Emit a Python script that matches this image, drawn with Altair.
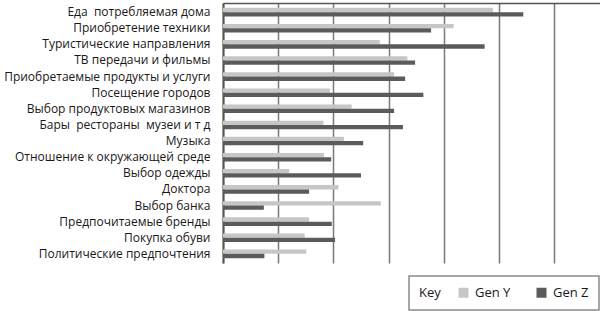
import altair as alt
import pandas as pd

categories = [
    "Еда\u00a0 потребляемая дома",
    "Приобретение техники",
    "Туристические направления",
    "ТВ передачи и фильмы",
    "Приобретаемые продукты и услуги",
    "Посещение городов",
    "Выбор продуктовых магазинов",
    "Бары\u00a0 рестораны\u00a0 музеи и т д",
    "Музыка",
    "Отношение к окружающей среде",
    "Выбор одежды",
    "Доктора",
    "Выбор банка",
    "Предпочитаемые бренды",
    "Покупка обуви",
    "Политические предпочтения",
]
gen_y = [4.89, 4.18, 2.84, 3.34, 3.10, 1.94, 2.33, 1.82, 2.19, 1.83, 1.20, 2.09, 2.86, 1.56, 1.48, 1.51]
gen_z = [5.44, 3.77, 4.74, 3.48, 3.30, 3.63, 3.10, 3.26, 2.54, 1.96, 2.50, 1.56, 0.74, 1.97, 2.03, 0.75]
series = ["Gen Y", "Gen Z"]
colors = ["#c6c6c6", "#5b5b5b"]
grid_values = [0, 1, 2, 3, 4, 5, 6]

rows = []
for c, y, z in zip(categories, gen_y, gen_z):
    rows.append({"category": c, "series": "Gen Y", "value": y})
    rows.append({"category": c, "series": "Gen Z", "value": z})
df = pd.DataFrame(rows)

FONT = "Open Sans"

chart = alt.Chart(df).mark_bar().encode(
    y=alt.Y("category:N", sort=categories, title=None,
            scale=alt.Scale(paddingInner=0.467, paddingOuter=0.3),
            axis=alt.Axis(ticks=False, labelPadding=13, labelFontSize=12,
                          labelFont=FONT, labelColor="#1a1718",
                          domainColor="#555555", domainWidth=2, grid=False,
                          labelLimit=300)),
    yOffset=alt.YOffset("series:N", sort=series),
    x=alt.X("value:Q", title=None,
            scale=alt.Scale(domain=[0, 6.83], nice=False, zero=True),
            axis=alt.Axis(orient="top", values=grid_values, labels=False, ticks=False,
                          domainColor="#555555", domainWidth=1.5,
                          grid=True, gridColor="#7a7a7a", gridWidth=1.5)),
    color=alt.Color("series:N", sort=series,
                    scale=alt.Scale(domain=series, range=colors),
                    legend=alt.Legend(title="Key", orient="none", legendX=186, legendY=273,
                                      direction="horizontal", titleOrient="left",
                                      titleFont=FONT, titleFontSize=13, titleFontWeight="normal",
                                      titleColor="#1a1718", titlePadding=16,
                                      labelFont=FONT, labelFontSize=13, labelColor="#1a1718",
                                      symbolType="square", symbolSize=100, symbolStrokeWidth=0,
                                      labelOffset=5, columnPadding=24,
                                      strokeColor="#8a8a8a", padding=10,
                                      fillColor="white")),
).properties(
    width=377, height=260,
    autosize=alt.AutoSizeParams(type="none"),
    padding={"left": 223, "top": 3, "right": 0, "bottom": 48},
).configure_view(stroke=None).configure_legend(strokeWidth=1.5)

chart.save("out.html", embed_options={"renderer": "svg", "actions": False})
